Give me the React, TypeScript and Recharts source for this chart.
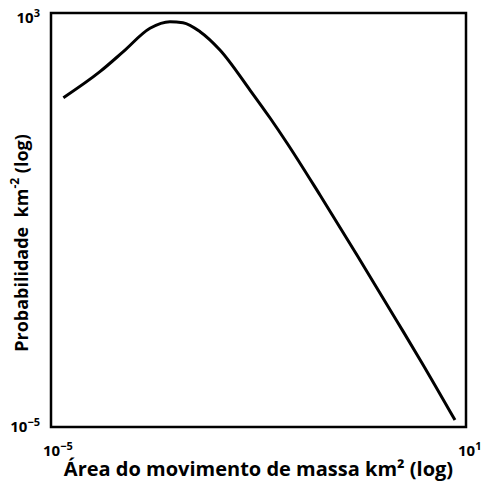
import { LineChart, Line, XAxis, YAxis, ReferenceArea, Label } from "recharts";

// área (km²) vs probabilidade (km⁻²), both log
const areas = [
  1.51e-5, 5.1e-5, 1.11e-4, 2.7e-4, 5.25e-4, 8.09e-4, 1.43e-3, 2.77e-3, 7.53e-3,
  1.47e-2, 2.58e-2, 7.74e-2, 0.265, 1.0, 2.31, 6.93,
];
const probs = [
  23.1, 73.5, 179, 506, 679, 650, 436, 193, 32.5, 9.35, 3.08, 0.304, 0.0211,
  1.12e-3, 1.73e-4, 1.36e-5,
];
const xTicks = [1e-5, 10];
const yTicks = [1e-5, 1e3];
const xTickExp = ["−5", "1"];
const yTickExp = ["−5", "3"];

const data = areas.map((a, i) => ({ area: a, prob: probs[i] }));

const FONT = "'Open Sans', sans-serif";

const XTick = (props: any) => {
  const { x, y, index } = props;
  return (
    <text x={x - 8} y={y + 11} fontFamily={FONT} fontWeight={700} fontSize={15} fill="#000" textAnchor="start">
      <tspan>10</tspan>
      <tspan dy={-6} fontSize={11}>{xTickExp[index]}</tspan>
    </text>
  );
};

const YTick = (props: any) => {
  const { x, y, index } = props;
  const dy = index === 0 ? 5 : 10;
  return (
    <text x={x - 1} y={y + dy} fontFamily={FONT} fontWeight={700} fontSize={15} fill="#000" textAnchor="end">
      <tspan>10</tspan>
      <tspan dy={-6} fontSize={11}>{yTickExp[index]}</tspan>
    </text>
  );
};

const YLabel = () => (
  <text
    x={21}
    y={243}
    transform="rotate(-90, 21, 243)"
    textAnchor="middle"
    dominantBaseline="central"
    fontFamily={FONT}
    fontWeight={700}
    fontSize={18}
    fill="#000"
    style={{ whiteSpace: "pre" }}
  >
    <tspan>Probabilidade  km</tspan>
    <tspan dy={-7} fontSize={12}>-2</tspan>
    <tspan dy={7}> (log)</tspan>
  </text>
);

export default function App() {
  return (
    <div style={{ position: "absolute", left: 0, top: 0, width: 486, height: 481, background: "#fff" }}>
      <LineChart width={486} height={481} data={data} margin={{ top: 13, right: 20, bottom: 0, left: 0 }}>
        <XAxis
          dataKey="area"
          type="number"
          scale="log"
          domain={[1e-5, 10]}
          ticks={xTicks}
          allowDataOverflow
          axisLine={false}
          tickLine={false}
          height={54}
          tick={<XTick />}
          tickMargin={12}
        >
          <Label
            value="Área do movimento de massa km² (log)"
            position="insideBottom"
            offset={5}
            style={{ fontFamily: FONT, fontWeight: 700, fontSize: 20, fill: "#000" }}
          />
        </XAxis>
        <YAxis
          type="number"
          scale="log"
          domain={[1e-5, 1e3]}
          ticks={yTicks}
          allowDataOverflow
          axisLine={false}
          tickLine={false}
          width={51}
          tick={<YTick />}
          tickMargin={4}
        >
          <Label content={<YLabel />} />
        </YAxis>
        <ReferenceArea
          x1={1e-5}
          x2={10}
          y1={1e-5}
          y2={1e3}
          fill="none"
          stroke="#000"
          strokeWidth={2.5}
          ifOverflow="visible"
        />
        <Line
          dataKey="prob"
          type="monotone"
          stroke="#000"
          strokeWidth={3}
          dot={false}
          isAnimationActive={false}
        />
      </LineChart>
    </div>
  );
}
